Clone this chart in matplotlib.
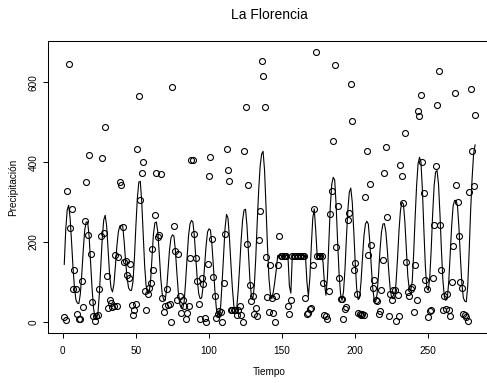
import matplotlib
matplotlib.use("Agg")
import matplotlib.pyplot as plt
from matplotlib import font_manager
import numpy as np

# make sure the regular-width Liberation Sans is used, not the Narrow cut
reg = [f.fname for f in font_manager.fontManager.ttflist
       if f.name == "Liberation Sans" and f.fname.endswith("LiberationSans-Regular.ttf")]
if reg:
    font_manager.fontManager.addfont(reg[0])
plt.rcParams['font.family'] = ['Liberation Sans', 'DejaVu Sans']
plt.rcParams['font.stretch'] = 'normal'

# monthly precipitation (t = 1..282)
precip = [
    12, 4, 327, 645, 235, 283, 83, 131, 83, 19,
    8, 7, 102, 37, 253, 349, 218, 419, 171, 50,
    15, 2, 15, 18, 83, 214, 410, 223, 487, 115,
    36, 55, 48, 38, 39, 167, 40, 163, 349, 342,
    238, 150, 153, 117, 111, 144, 42, 18, 29, 44,
    432, 565, 306, 372, 400, 78, 31, 69, 86, 97,
    182, 131, 268, 373, 212, 218, 369, 60, 25, 41,
    83, 43, 45, 0, 589, 241, 177, 55, 171, 66,
    23, 54, 40, 8, 23, 41, 161, 405, 404, 221,
    160, 103, 44, 8, 110, 95, 10, 0, 144, 365,
    412, 208, 113, 64, 11, 19, 28, 24, 0, 97,
    220, 434, 380, 352, 29, 31, 31, 29, 18, 29,
    40, 18, 0, 428, 537, 196, 342, 93, 52, 64,
    21, 35, 15, 204, 278, 654, 616, 537, 163, 63,
    25, 143, 60, 22, 0, 64, 142, 215, 166, 166,
    166, 166, 166, 39, 21, 56, 166, 166, 166, 166,
    166, 166, 166, 166, 166, 61, 20, 22, 32, 35,
    143, 283, 676, 166, 166, 166, 166, 97, 18, 15,
    8, 77, 269, 327, 453, 643, 188, 290, 111, 58,
    58, 8, 32, 38, 254, 272, 596, 502, 129, 147,
    71, 22, 20, 18, 21, 18, 312, 428, 167, 345,
    192, 86, 104, 54, 53, 20, 28, 79, 154, 373,
    437, 263, 14, 71, 56, 79, 79, 3, 67, 15,
    393, 365, 298, 473, 150, 75, 66, 83, 87, 26,
    142, 56, 527, 515, 568, 400, 323, 106, 82, 13,
    27, 29, 111, 243, 391, 544, 628, 242, 131, 29,
    66, 33, 71, 29, 14, 99, 190, 572, 343, 300,
    215, 100, 85, 21, 17, 13, 2, 326, 584, 427,
    341, 518,
]

# fitted curve
ajuste = [
    144, 230, 280, 292, 260, 200, 135, 85, 55, 47,
    46, 70, 120, 180, 230, 250, 250, 215, 150, 85,
    35, 12, 8, 20, 70, 140, 210, 255, 267, 240,
    180, 120, 85, 75, 95, 140, 190, 225, 240, 242,
    240, 200, 150, 110, 85, 79, 79, 100, 160, 240,
    310, 350, 352, 300, 220, 140, 90, 72, 72, 100,
    160, 220, 248, 250, 225, 170, 110, 70, 55, 54,
    80, 130, 180, 210, 218, 215, 180, 125, 75, 45,
    35, 33, 50, 100, 160, 215, 245, 254, 250, 215,
    160, 105, 70, 58, 60, 90, 140, 190, 225, 233,
    230, 195, 140, 80, 35, 14, 12, 40, 100, 170,
    235, 269, 260, 210, 145, 85, 40, 25, 35, 80,
    140, 205, 255, 280, 282, 240, 170, 105, 65, 58,
    90, 160, 250, 330, 390, 420, 427, 380, 290, 190,
    110, 70, 58, 75, 100, 130, 166, 166, 166, 166,
    166, 166, 166, 166, 90, 72, 166, 166, 166, 166,
    166, 166, 166, 166, 166, 166, 100, 64, 110, 190,
    260, 283, 230, 166, 166, 166, 166, 150, 95, 67,
    110, 200, 290, 345, 362, 355, 290, 200, 120, 70,
    54, 75, 130, 210, 280, 325, 335, 300, 230, 150,
    85, 56, 60, 100, 160, 215, 245, 252, 245, 200,
    140, 85, 55, 50, 70, 120, 180, 225, 245, 246,
    225, 180, 125, 80, 60, 58, 60, 100, 160, 230,
    280, 300, 295, 250, 180, 115, 82, 79, 100, 170,
    260, 340, 395, 412, 400, 330, 230, 140, 85, 79,
    110, 180, 270, 340, 375, 379, 345, 270, 180, 105,
    62, 54, 58, 100, 170, 240, 290, 304, 304, 290,
    235, 160, 95, 60, 52, 50, 90, 180, 280, 360,
    420, 443,
]

xticks = [0, 50, 100, 150, 200, 250]
yticks = [0, 200, 400, 600]

tiempo = np.arange(1, len(precip) + 1)

fig = plt.figure(figsize=(4.87, 3.83), dpi=100)
# R-style plot region; the right side of the box falls just outside the image
ax = fig.add_axes([0.0982, 0.1313, 0.911, 0.7616])

ax.plot(tiempo, ajuste, color="black", linewidth=0.8)
ax.plot(tiempo, precip, "o", mfc="none", mec="black", ms=4.3, mew=0.8)

n = len(precip)
ax.set_xlim(1 - 0.04 * (n - 1), n + 0.04 * (n - 1))
ymin, ymax = min(precip), max(precip)
ax.set_ylim(ymin - 0.04 * (ymax - ymin), ymax + 0.04 * (ymax - ymin))

ax.set_xticks(xticks)
ax.set_yticks(yticks)
ax.set_yticklabels([str(v) for v in yticks], rotation=90, va="center")
ax.tick_params(axis="both", direction="out", length=3.6, width=0.75,
               labelsize=7.2, color="black")
ax.tick_params(axis="x", pad=6)
ax.tick_params(axis="y", pad=3)
for sp in ax.spines.values():
    sp.set_linewidth(0.75)
    sp.set_color("black")

xc = (47.8 + 491.5) / 2 / 487
fig.text(xc, 1 - 15 / 383, "La Florencia", ha="center", va="center", fontsize=10)
fig.text(xc, (383 - 375) / 383, "Tiempo", ha="center", va="baseline", fontsize=7.2)
fig.text(13.5 / 487, 1 - 187 / 383, "Precipitación", rotation=90,
         ha="center", va="center", fontsize=7.2)

fig.savefig("out.png", dpi=100)
